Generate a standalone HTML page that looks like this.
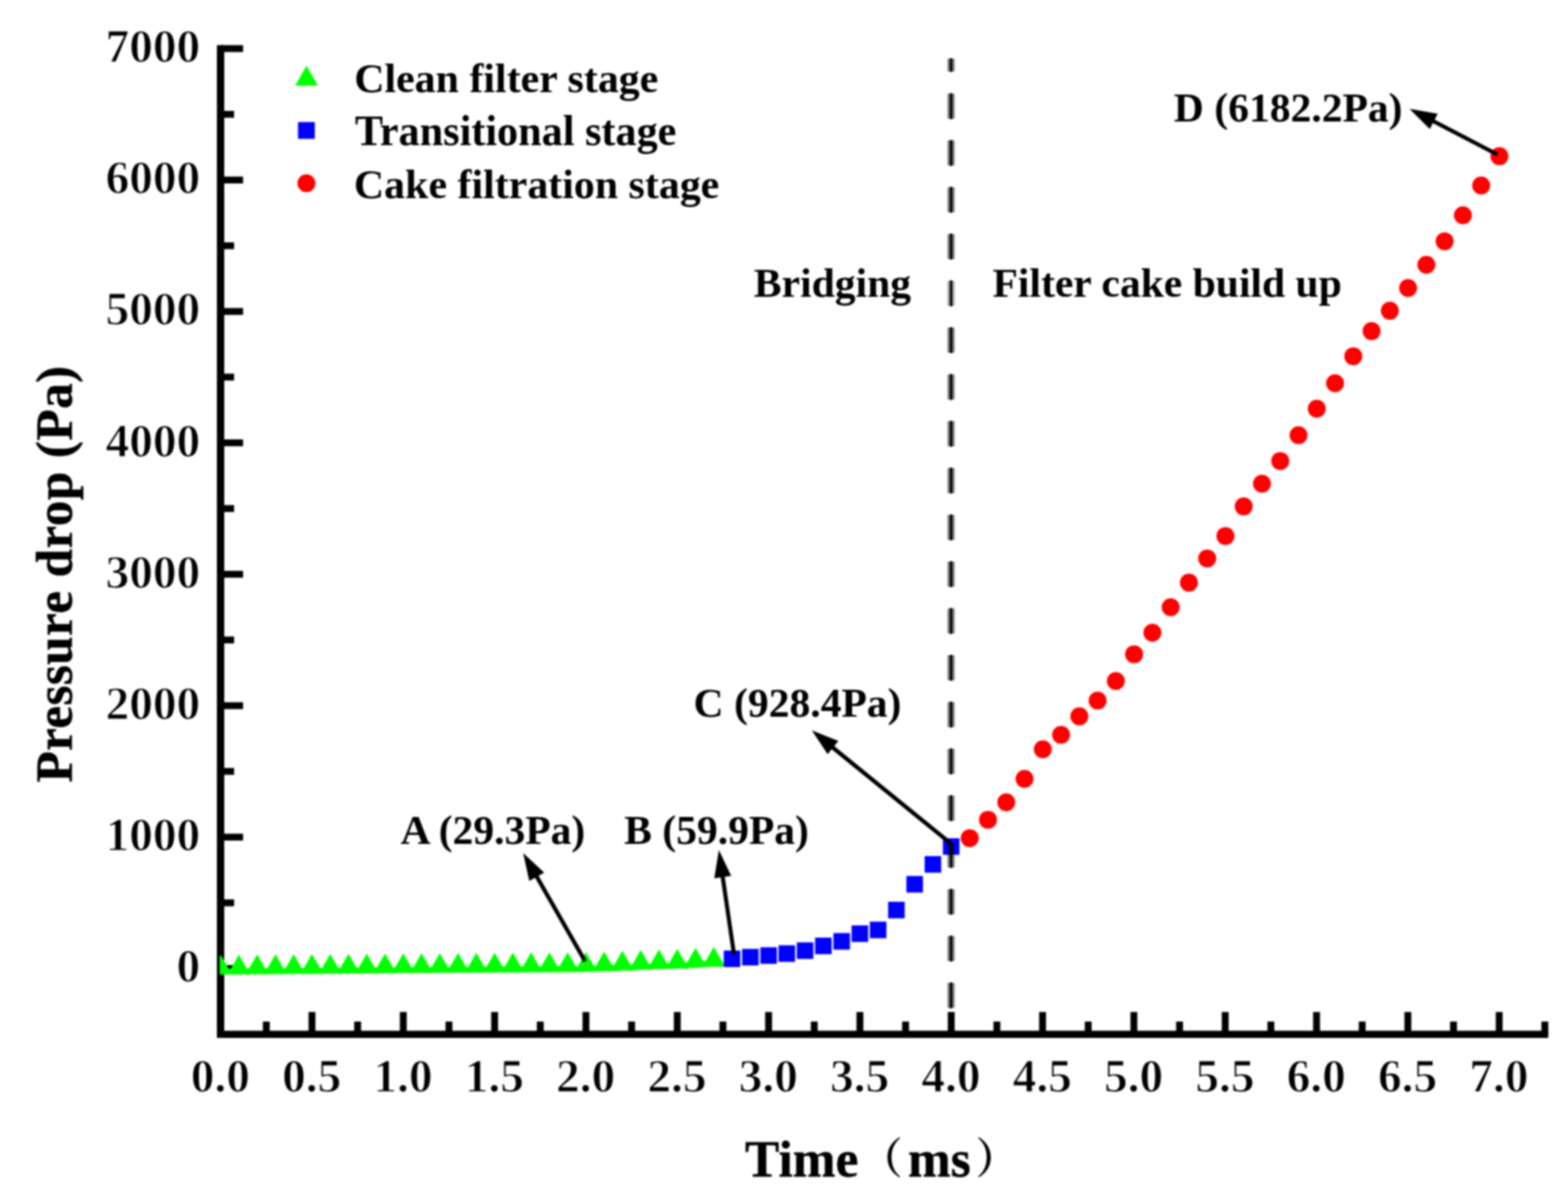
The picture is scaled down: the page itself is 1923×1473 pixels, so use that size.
<!DOCTYPE html>
<html lang="en"><head><meta charset="utf-8"><title>Pressure drop vs time</title>
<style>
html,body{margin:0;padding:0;background:#fff;}
body{width:1923px;height:1473px;overflow:hidden;}
svg{display:block;filter:blur(0.8px);}
text{font-family:"Liberation Serif","Noto Serif CJK SC",serif;font-weight:bold;fill:#000;}
.tk{font-size:58px;stroke:#fff;stroke-width:1.1px;stroke-linejoin:round;}
.an{font-size:51.3px;}
.ti{font-size:63px;stroke:#000;stroke-width:0.5px;}
.cjk{font-family:"Noto Serif CJK SC","Noto Sans CJK SC",serif;font-weight:bold;font-size:52px;stroke:none;}
</style></head><body>
<svg width="1923" height="1473" viewBox="0 0 1923 1473">
<rect width="1923" height="1473" fill="#fff"/>
<g id="axes" fill="#000">
<rect x="266.0" y="55.4" width="9.0" height="1217.6"/>
<rect x="266.0" y="1264.2" width="1632.8" height="8.8"/>
<rect x="270.6" y="1183.7" width="27.5" height="8.4"/>
<rect x="270.6" y="1103.1" width="16.5" height="8.4"/>
<rect x="270.6" y="1022.5" width="27.5" height="8.4"/>
<rect x="270.6" y="941.9" width="16.5" height="8.4"/>
<rect x="270.6" y="861.3" width="27.5" height="8.4"/>
<rect x="270.6" y="780.7" width="16.5" height="8.4"/>
<rect x="270.6" y="700.1" width="27.5" height="8.4"/>
<rect x="270.6" y="619.5" width="16.5" height="8.4"/>
<rect x="270.6" y="538.9" width="27.5" height="8.4"/>
<rect x="270.6" y="458.3" width="16.5" height="8.4"/>
<rect x="270.6" y="377.8" width="27.5" height="8.4"/>
<rect x="270.6" y="297.2" width="16.5" height="8.4"/>
<rect x="270.6" y="216.6" width="27.5" height="8.4"/>
<rect x="270.6" y="136.0" width="16.5" height="8.4"/>
<rect x="270.6" y="55.4" width="27.5" height="8.4"/>
<rect x="322.4" y="1252.9" width="8.4" height="15.5"/>
<rect x="378.4" y="1241.2" width="8.4" height="27.2"/>
<rect x="434.4" y="1252.9" width="8.4" height="15.5"/>
<rect x="490.4" y="1241.2" width="8.4" height="27.2"/>
<rect x="546.4" y="1252.9" width="8.4" height="15.5"/>
<rect x="602.4" y="1241.2" width="8.4" height="27.2"/>
<rect x="658.4" y="1252.9" width="8.4" height="15.5"/>
<rect x="714.4" y="1241.2" width="8.4" height="27.2"/>
<rect x="770.4" y="1252.9" width="8.4" height="15.5"/>
<rect x="826.4" y="1241.2" width="8.4" height="27.2"/>
<rect x="882.4" y="1252.9" width="8.4" height="15.5"/>
<rect x="938.4" y="1241.2" width="8.4" height="27.2"/>
<rect x="994.4" y="1252.9" width="8.4" height="15.5"/>
<rect x="1050.4" y="1241.2" width="8.4" height="27.2"/>
<rect x="1106.4" y="1252.9" width="8.4" height="15.5"/>
<rect x="1162.4" y="1241.2" width="8.4" height="27.2"/>
<rect x="1218.4" y="1252.9" width="8.4" height="15.5"/>
<rect x="1274.4" y="1241.2" width="8.4" height="27.2"/>
<rect x="1330.4" y="1252.9" width="8.4" height="15.5"/>
<rect x="1386.4" y="1241.2" width="8.4" height="27.2"/>
<rect x="1442.4" y="1252.9" width="8.4" height="15.5"/>
<rect x="1498.4" y="1241.2" width="8.4" height="27.2"/>
<rect x="1554.4" y="1252.9" width="8.4" height="15.5"/>
<rect x="1610.4" y="1241.2" width="8.4" height="27.2"/>
<rect x="1666.4" y="1252.9" width="8.4" height="15.5"/>
<rect x="1722.4" y="1241.2" width="8.4" height="27.2"/>
<rect x="1778.4" y="1252.9" width="8.4" height="15.5"/>
<rect x="1834.4" y="1241.2" width="8.4" height="27.2"/>
<rect x="1890.4" y="1252.9" width="8.4" height="15.5"/>
</g>
<g id="ylabels" class="tk" text-anchor="end">
<text x="245.4" y="1204.3">0</text>
<text x="245.4" y="1043.1">1000</text>
<text x="245.4" y="881.9">2000</text>
<text x="245.4" y="720.7">3000</text>
<text x="245.4" y="559.5">4000</text>
<text x="245.4" y="398.4">5000</text>
<text x="245.4" y="237.2">6000</text>
<text x="245.4" y="76.0">7000</text>
</g>
<g id="xlabels" class="tk" text-anchor="middle">
<text x="270.2" y="1339">0.0</text>
<text x="382.2" y="1339">0.5</text>
<text x="494.2" y="1339">1.0</text>
<text x="606.2" y="1339">1.5</text>
<text x="718.2" y="1339">2.0</text>
<text x="830.2" y="1339">2.5</text>
<text x="942.2" y="1339">3.0</text>
<text x="1054.2" y="1339">3.5</text>
<text x="1166.2" y="1339">4.0</text>
<text x="1278.2" y="1339">4.5</text>
<text x="1390.2" y="1339">5.0</text>
<text x="1502.2" y="1339">5.5</text>
<text x="1614.2" y="1339">6.0</text>
<text x="1726.2" y="1339">6.5</text>
<text x="1838.2" y="1339">7.0</text>
</g>
<text class="ti" transform="translate(88,959.8) rotate(-90)" letter-spacing="0.42">Pressure drop (Pa)</text>
<text class="ti" y="1443"><tspan x="913.8">Time</tspan><tspan class="cjk" x="1055.0" y="1439.3">（</tspan><tspan x="1113.6" y="1443">ms</tspan><tspan class="cjk" x="1196.5" y="1439.3">）</tspan></text>
<clipPath id="plotclip"><rect x="269.4" y="40" width="1640" height="1232"/></clipPath>
<path id="green" clip-path="url(#plotclip)" fill="#00ff00" d="M270.6 1170.9L284.6 1195.3L256.6 1195.3ZM293.0 1170.8L307.0 1195.2L279.0 1195.2ZM315.4 1170.6L329.4 1195.0L301.4 1195.0ZM337.8 1170.4L351.8 1194.8L323.8 1194.8ZM360.2 1170.2L374.2 1194.6L346.2 1194.6ZM382.6 1170.1L396.6 1194.5L368.6 1194.5ZM405.0 1169.9L419.0 1194.3L391.0 1194.3ZM427.4 1169.7L441.4 1194.1L413.4 1194.1ZM449.8 1169.6L463.8 1194.0L435.8 1194.0ZM472.2 1169.4L486.2 1193.8L458.2 1193.8ZM494.6 1169.2L508.6 1193.6L480.6 1193.6ZM517.0 1169.0L531.0 1193.4L503.0 1193.4ZM539.4 1168.9L553.4 1193.3L525.4 1193.3ZM561.8 1168.7L575.8 1193.1L547.8 1193.1ZM584.2 1168.5L598.2 1192.9L570.2 1192.9ZM606.6 1168.4L620.6 1192.8L592.6 1192.8ZM629.0 1168.3L643.0 1192.7L615.0 1192.7ZM651.4 1168.1L665.4 1192.5L637.4 1192.5ZM673.8 1168.0L687.8 1192.4L659.8 1192.4ZM696.2 1167.9L710.2 1192.3L682.2 1192.3ZM718.6 1167.7L732.6 1192.1L704.6 1192.1ZM741.0 1166.9L755.0 1191.3L727.0 1191.3ZM763.4 1166.0L777.4 1190.4L749.4 1190.4ZM785.8 1165.1L799.8 1189.5L771.8 1189.5ZM808.2 1164.4L822.2 1188.8L794.2 1188.8ZM830.6 1163.7L844.6 1188.1L816.6 1188.1ZM853.0 1162.5L867.0 1186.9L839.0 1186.9ZM875.4 1161.3L889.4 1185.7L861.4 1185.7ZM270.6 1188.0L293.0 1188.0L293.0 1195.2L270.6 1195.3ZM293.0 1187.8L315.4 1187.8L315.4 1195.0L293.0 1195.2ZM315.4 1187.6L337.8 1187.6L337.8 1194.8L315.4 1195.0ZM337.8 1187.5L360.2 1187.5L360.2 1194.6L337.8 1194.8ZM360.2 1187.3L382.6 1187.3L382.6 1194.5L360.2 1194.6ZM382.6 1187.1L405.0 1187.1L405.0 1194.3L382.6 1194.5ZM405.0 1186.9L427.4 1186.9L427.4 1194.1L405.0 1194.3ZM427.4 1186.8L449.8 1186.8L449.8 1194.0L427.4 1194.1ZM449.8 1186.6L472.2 1186.6L472.2 1193.8L449.8 1194.0ZM472.2 1186.4L494.6 1186.4L494.6 1193.6L472.2 1193.8ZM494.6 1186.3L517.0 1186.3L517.0 1193.4L494.6 1193.6ZM517.0 1186.1L539.4 1186.1L539.4 1193.3L517.0 1193.4ZM539.4 1185.9L561.8 1185.9L561.8 1193.1L539.4 1193.3ZM561.8 1185.7L584.2 1185.7L584.2 1192.9L561.8 1193.1ZM584.2 1185.6L606.6 1185.6L606.6 1192.8L584.2 1192.9ZM606.6 1185.5L629.0 1185.5L629.0 1192.7L606.6 1192.8ZM629.0 1185.3L651.4 1185.3L651.4 1192.5L629.0 1192.7ZM651.4 1185.2L673.8 1185.2L673.8 1192.4L651.4 1192.5ZM673.8 1185.1L696.2 1185.1L696.2 1192.3L673.8 1192.4ZM696.2 1184.9L718.6 1184.9L718.6 1192.1L696.2 1192.3ZM718.6 1184.4L741.0 1184.4L741.0 1191.3L718.6 1192.1ZM741.0 1183.6L763.4 1183.6L763.4 1190.4L741.0 1191.3ZM763.4 1182.7L785.8 1182.7L785.8 1189.5L763.4 1190.4ZM785.8 1181.9L808.2 1181.9L808.2 1188.8L785.8 1189.5ZM808.2 1181.2L830.6 1181.2L830.6 1188.1L808.2 1188.8ZM830.6 1180.3L853.0 1180.3L853.0 1186.9L830.6 1188.1ZM853.0 1179.1L875.4 1179.1L875.4 1185.7L853.0 1186.9Z"/>
<g id="blue" fill="#0000ff">
<rect x="887.6" y="1165.8" width="20.3" height="20.3"/>
<rect x="910.1" y="1163.8" width="20.3" height="20.3"/>
<rect x="932.5" y="1161.8" width="20.3" height="20.3"/>
<rect x="954.8" y="1159.4" width="20.3" height="20.3"/>
<rect x="977.2" y="1155.8" width="20.3" height="20.3"/>
<rect x="999.6" y="1150.0" width="20.3" height="20.3"/>
<rect x="1022.1" y="1144.4" width="20.3" height="20.3"/>
<rect x="1044.4" y="1135.0" width="20.3" height="20.3"/>
<rect x="1066.8" y="1130.4" width="20.3" height="20.3"/>
<rect x="1089.2" y="1106.0" width="20.3" height="20.3"/>
<rect x="1111.6" y="1074.4" width="20.3" height="20.3"/>
<rect x="1134.0" y="1050.0" width="20.3" height="20.3"/>
<rect x="1156.4" y="1028.1" width="20.3" height="20.3"/>
</g>
<g id="dash">
<rect x="1162.0" y="72.0" width="8.8" height="15.6" fill="#000" fill-opacity="0.5"/>
<rect x="1164.9" y="71.4" width="3.0" height="16.8" fill="#000"/>
<rect x="1162.0" y="114.9" width="8.8" height="30.6" fill="#000" fill-opacity="0.5"/>
<rect x="1164.9" y="114.3" width="3.0" height="31.8" fill="#000"/>
<rect x="1162.0" y="172.3" width="8.8" height="30.6" fill="#000" fill-opacity="0.5"/>
<rect x="1164.9" y="171.7" width="3.0" height="31.8" fill="#000"/>
<rect x="1162.0" y="229.7" width="8.8" height="30.6" fill="#000" fill-opacity="0.5"/>
<rect x="1164.9" y="229.1" width="3.0" height="31.8" fill="#000"/>
<rect x="1162.0" y="287.1" width="8.8" height="30.6" fill="#000" fill-opacity="0.5"/>
<rect x="1164.9" y="286.5" width="3.0" height="31.8" fill="#000"/>
<rect x="1162.0" y="344.5" width="8.8" height="30.6" fill="#000" fill-opacity="0.34"/>
<rect x="1164.9" y="343.9" width="3.0" height="31.8" fill="#000"/>
<rect x="1162.0" y="401.9" width="8.8" height="30.6" fill="#000" fill-opacity="0.5"/>
<rect x="1164.9" y="401.3" width="3.0" height="31.8" fill="#000"/>
<rect x="1162.0" y="459.3" width="8.8" height="30.6" fill="#000" fill-opacity="0.5"/>
<rect x="1164.9" y="458.7" width="3.0" height="31.8" fill="#000"/>
<rect x="1162.0" y="516.7" width="8.8" height="30.6" fill="#000" fill-opacity="0.5"/>
<rect x="1164.9" y="516.1" width="3.0" height="31.8" fill="#000"/>
<rect x="1162.0" y="574.1" width="8.8" height="30.6" fill="#000" fill-opacity="0.5"/>
<rect x="1164.9" y="573.5" width="3.0" height="31.8" fill="#000"/>
<rect x="1162.0" y="631.5" width="8.8" height="30.6" fill="#000" fill-opacity="0.5"/>
<rect x="1164.9" y="630.9" width="3.0" height="31.8" fill="#000"/>
<rect x="1162.0" y="688.9" width="8.8" height="30.6" fill="#000" fill-opacity="0.5"/>
<rect x="1164.9" y="688.3" width="3.0" height="31.8" fill="#000"/>
<rect x="1162.0" y="746.3" width="8.8" height="30.6" fill="#000" fill-opacity="0.5"/>
<rect x="1164.9" y="745.7" width="3.0" height="31.8" fill="#000"/>
<rect x="1162.0" y="803.7" width="8.8" height="30.6" fill="#000" fill-opacity="0.5"/>
<rect x="1164.9" y="803.1" width="3.0" height="31.8" fill="#000"/>
<rect x="1162.0" y="861.1" width="8.8" height="30.6" fill="#000" fill-opacity="0.5"/>
<rect x="1164.9" y="860.5" width="3.0" height="31.8" fill="#000"/>
<rect x="1162.0" y="918.5" width="8.8" height="30.6" fill="#000" fill-opacity="0.5"/>
<rect x="1164.9" y="917.9" width="3.0" height="31.8" fill="#000"/>
<rect x="1162.0" y="975.9" width="8.8" height="30.6" fill="#000" fill-opacity="0.5"/>
<rect x="1164.9" y="975.3" width="3.0" height="31.8" fill="#000"/>
<rect x="1162.0" y="1033.3" width="8.8" height="30.6" fill="#000" fill-opacity="0.5"/>
<rect x="1164.9" y="1032.7" width="3.0" height="31.8" fill="#000"/>
<rect x="1162.0" y="1090.7" width="8.8" height="30.6" fill="#000" fill-opacity="0.5"/>
<rect x="1164.9" y="1090.1" width="3.0" height="31.8" fill="#000"/>
<rect x="1162.0" y="1148.1" width="8.8" height="30.6" fill="#000" fill-opacity="0.5"/>
<rect x="1164.9" y="1147.5" width="3.0" height="31.8" fill="#000"/>
<rect x="1162.0" y="1205.5" width="8.8" height="30.6" fill="#000" fill-opacity="0.5"/>
<rect x="1164.9" y="1204.9" width="3.0" height="31.8" fill="#000"/>
</g>
<g id="red" fill="#ff0000">
<circle cx="1189.3" cy="1027.9" r="11"/>
<circle cx="1211.7" cy="1005.4" r="11"/>
<circle cx="1234.1" cy="984.0" r="11"/>
<circle cx="1256.5" cy="955.2" r="11"/>
<circle cx="1278.9" cy="919.0" r="11"/>
<circle cx="1301.3" cy="901.3" r="11"/>
<circle cx="1323.7" cy="878.6" r="11"/>
<circle cx="1346.1" cy="859.2" r="11"/>
<circle cx="1368.5" cy="835.2" r="11"/>
<circle cx="1390.9" cy="802.4" r="11"/>
<circle cx="1413.3" cy="776.0" r="11"/>
<circle cx="1435.7" cy="744.8" r="11"/>
<circle cx="1458.1" cy="714.6" r="11"/>
<circle cx="1480.5" cy="684.9" r="11"/>
<circle cx="1502.9" cy="657.4" r="11"/>
<circle cx="1525.3" cy="621.1" r="11"/>
<circle cx="1547.7" cy="593.2" r="11"/>
<circle cx="1570.1" cy="565.4" r="11"/>
<circle cx="1592.5" cy="533.7" r="11"/>
<circle cx="1614.9" cy="501.3" r="11"/>
<circle cx="1637.3" cy="470.0" r="11"/>
<circle cx="1659.7" cy="436.9" r="11"/>
<circle cx="1682.1" cy="406.1" r="11"/>
<circle cx="1704.5" cy="381.1" r="11"/>
<circle cx="1726.9" cy="353.2" r="11"/>
<circle cx="1749.3" cy="324.7" r="11"/>
<circle cx="1771.7" cy="295.9" r="11"/>
<circle cx="1794.1" cy="264.0" r="11"/>
<circle cx="1816.5" cy="227.5" r="11"/>
<circle cx="1838.9" cy="191.6" r="11"/>
</g>
<g id="legend">
<path fill="#00ff00" d="M375.9 80.4L389.8 104.9L362.0 104.9Z"/>
<rect fill="#0000ff" x="365.5" y="149.7" width="20.6" height="20.6"/>
<circle fill="#ff0000" cx="375.8" cy="224.8" r="11"/>
<text x="434.40" y="113.4" font-size="51.40">Clean filter stage</text>
<text x="435.20" y="178.0" font-size="51.75">Transitional stage</text>
<text x="434.00" y="242.6" font-size="51.40">Cake filtration stage</text>
</g>
<g id="notes" class="an">
<text x="491.20" y="1035.0" font-size="51.00">A (29.3Pa)</text>
<text x="765.40" y="1035.0" font-size="51.00">B (59.9Pa)</text>
<text x="850.60" y="879.0" font-size="51.00">C (928.4Pa)</text>
<text x="1439.60" y="149.0" font-size="51.00">D (6182.2Pa)</text>
<text x="924.60" y="363.6" font-size="51.00">Bridging</text>
<text x="1217.20" y="363.6" font-size="51.00">Filter cake build up</text>
</g>
<g id="arrows">
<line x1="717.6" y1="1179.0" x2="657.3" y2="1073.6" stroke="#000" stroke-width="5.0"/><path fill="#000" d="M641.6 1046.3L667.4 1070.2L649.1 1080.6Z"/>
<line x1="900.2" y1="1170.5" x2="886.1" y2="1073.8" stroke="#000" stroke-width="5.0"/><path fill="#000" d="M881.6 1042.6L896.8 1074.2L876.0 1077.3Z"/>
<line x1="1165.3" y1="1033.9" x2="1020.0" y2="915.7" stroke="#000" stroke-width="5.0"/><path fill="#000" d="M995.6 895.8L1028.2 908.8L1015.0 925.1Z"/>
<line x1="1836.6" y1="189.6" x2="1756.5" y2="147.9" stroke="#000" stroke-width="5.0"/><path fill="#000" d="M1728.6 133.4L1763.2 139.5L1753.5 158.2Z"/>
</g>
</svg>
</body></html>
